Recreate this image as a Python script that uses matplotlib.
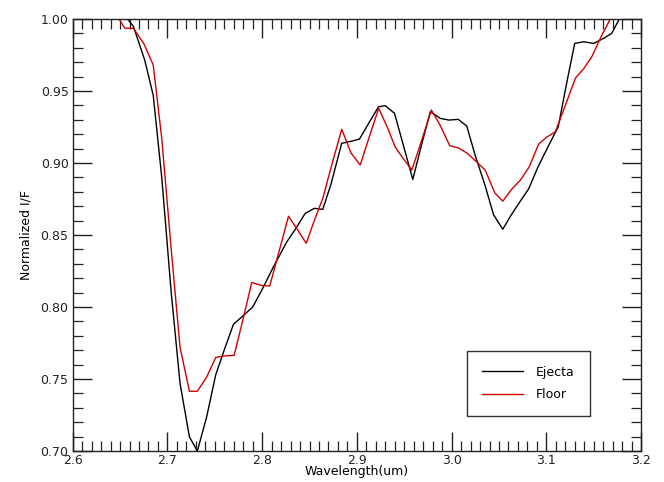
"""Normalized I/F spectra of ejecta and crater floor, 2.6-3.2 um."""
import matplotlib
matplotlib.use("Agg")
import matplotlib.pyplot as plt
from matplotlib.ticker import MultipleLocator, FormatStrFormatter

# ejecta spectrum
ejecta_wl = [2.654, 2.664, 2.676, 2.685, 2.694, 2.704, 2.7133, 2.7232, 2.7316,
             2.7415, 2.751, 2.7604, 2.7697, 2.780, 2.790, 2.7996, 2.812, 2.826,
             2.835, 2.8454, 2.855, 2.864, 2.8725, 2.884, 2.8935, 2.9027, 2.9128,
             2.9228, 2.930, 2.9397, 2.949, 2.959, 2.968, 2.9775, 2.988, 2.997,
             3.007, 3.016, 3.025, 3.035, 3.0443, 3.054, 3.063, 3.072, 3.0813,
             3.091, 3.1015, 3.1125, 3.121, 3.1299, 3.1394, 3.150, 3.1605, 3.169,
             3.177, 3.185]
ejecta_if = [1.003, 0.995, 0.9715, 0.947, 0.890, 0.810, 0.747, 0.7098, 0.700,
             0.724, 0.753, 0.771, 0.788, 0.794, 0.800, 0.8117, 0.828, 0.8452,
             0.854, 0.865, 0.8685, 0.8678, 0.885, 0.9137, 0.915, 0.9166, 0.928,
             0.939, 0.9398, 0.9345, 0.9124, 0.8886, 0.912, 0.9356, 0.931, 0.9298,
             0.9303, 0.9256, 0.905, 0.885, 0.864, 0.854, 0.864, 0.873, 0.882,
             0.897, 0.911, 0.925, 0.954, 0.983, 0.9842, 0.983, 0.9866, 0.990,
             1.000, 1.012]

# crater floor spectrum
floor_wl = [2.645, 2.655, 2.664, 2.675, 2.685, 2.694, 2.704, 2.7133, 2.7232,
            2.7316, 2.7415, 2.751, 2.7604, 2.7704, 2.780, 2.789, 2.799, 2.808,
            2.818, 2.8278, 2.837, 2.8465, 2.855, 2.864, 2.874, 2.884, 2.8937,
            2.9035, 2.913, 2.923, 2.932, 2.9405, 2.949, 2.958, 2.968, 2.9786,
            2.988, 2.998, 3.007, 3.016, 3.026, 3.0355, 3.0455, 3.054, 3.0637,
            3.0725, 3.082, 3.0918, 3.1005, 3.1095, 3.120, 3.1306, 3.140, 3.148,
            3.158, 3.1675, 3.175]
floor_if = [1.004, 0.9936, 0.9936, 0.983, 0.968, 0.917, 0.840, 0.772, 0.7415,
            0.7415, 0.7515, 0.765, 0.766, 0.7665, 0.792, 0.817, 0.815, 0.8146,
            0.839, 0.863, 0.854, 0.8442, 0.860, 0.8755, 0.900, 0.9234, 0.907,
            0.8986, 0.918, 0.938, 0.925, 0.911, 0.903, 0.8951, 0.915, 0.9368,
            0.926, 0.912, 0.9105, 0.907, 0.901, 0.895, 0.8793, 0.8735, 0.882,
            0.888, 0.8974, 0.9131, 0.918, 0.9217, 0.940, 0.9588, 0.966, 0.9738,
            0.988, 1.000, 1.010]

fig = plt.figure(figsize=(6.64, 4.82), dpi=100)
ax = fig.add_axes([0.1095, 0.0643, 0.856, 0.8963])

ax.plot(ejecta_wl, ejecta_if, color="black", lw=1.0, label="Ejecta")
ax.plot(floor_wl, floor_if, color="#d00000", lw=1.0, label="Floor")

ax.set_xlim(2.6, 3.2)
ax.set_ylim(0.70, 1.00)
ax.xaxis.set_major_locator(MultipleLocator(0.1))
ax.xaxis.set_minor_locator(MultipleLocator(0.01))
ax.yaxis.set_major_locator(MultipleLocator(0.05))
ax.yaxis.set_minor_locator(MultipleLocator(0.01))
ax.xaxis.set_major_formatter(FormatStrFormatter("%.1f"))
ax.yaxis.set_major_formatter(FormatStrFormatter("%.2f"))

ax.tick_params(which="both", direction="in", top=True, right=True,
               labelsize=9, color="#222222", labelcolor="#222222")
ax.tick_params(which="major", length=14, width=1.0, pad=3)
ax.tick_params(which="minor", length=7, width=0.9)
ax.tick_params(axis="x", which="major", pad=2)
for sp in ax.spines.values():
    sp.set_linewidth(1.0)
    sp.set_color("#222222")

ax.set_xlabel("Wavelength(um)", fontsize=9, labelpad=-1)
ax.set_ylabel("Normalized I/F", fontsize=9, labelpad=6)

leg = ax.legend(loc="upper left", bbox_to_anchor=(0.694, 0.232), fontsize=9,
                frameon=True, fancybox=False, edgecolor="black",
                borderpad=1.2, handlelength=3.3, handletextpad=1.0,
                labelspacing=0.75, borderaxespad=0)
leg.get_frame().set_linewidth(1.0)

fig.savefig("out.png", dpi=100)
